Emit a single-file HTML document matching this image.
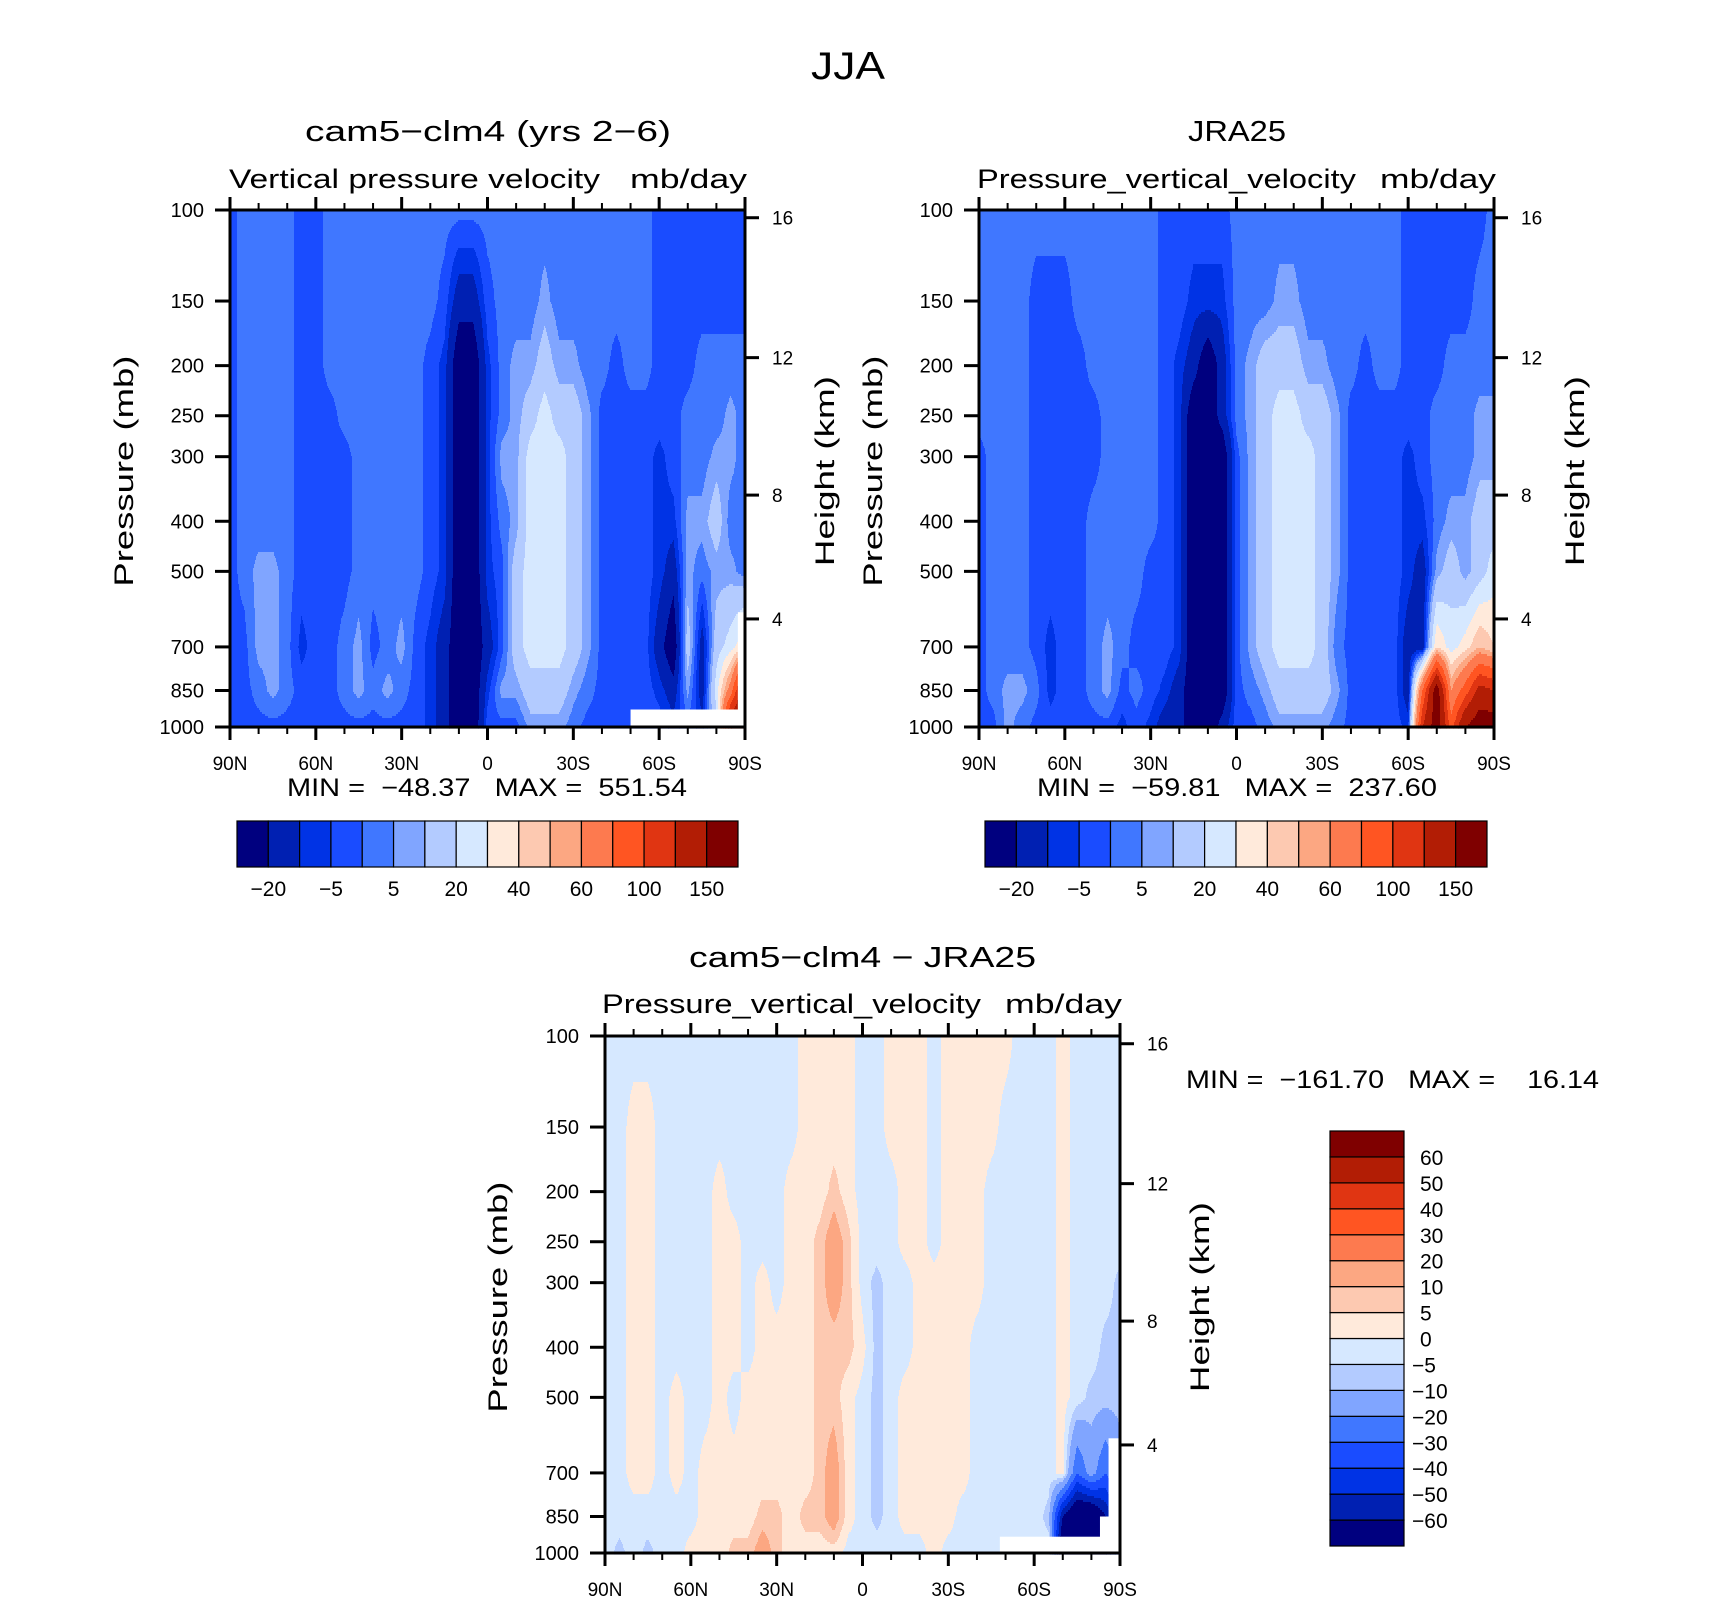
<!DOCTYPE html>
<html><head><meta charset="utf-8"><style>
html,body{margin:0;padding:0;background:#fff;}
svg text{font-family:"Liberation Sans",sans-serif;fill:#000;white-space:pre;}
</style></head>
<body>
<svg id="fig" xmlns="http://www.w3.org/2000/svg" width="1710" height="1601" viewBox="0 0 1710 1601">
<rect x="0" y="0" width="1710" height="1601" fill="#fff"/>
<text x="848" y="79" font-size="39" text-anchor="middle" textLength="74" lengthAdjust="spacingAndGlyphs">JJA</text>
<text x="305" y="141" font-size="29" textLength="366" lengthAdjust="spacingAndGlyphs">cam5−clm4 (yrs 2−6)</text>
<text x="229" y="188" font-size="27" textLength="371" lengthAdjust="spacingAndGlyphs">Vertical pressure velocity</text>
<text x="630" y="188" font-size="27" textLength="117" lengthAdjust="spacingAndGlyphs">mb/day</text>
<text x="1188" y="141" font-size="29" textLength="98" lengthAdjust="spacingAndGlyphs">JRA25</text>
<text x="977" y="188" font-size="27" textLength="379" lengthAdjust="spacingAndGlyphs">Pressure_vertical_velocity</text>
<text x="1380" y="188" font-size="27" textLength="116" lengthAdjust="spacingAndGlyphs">mb/day</text>
<text x="689" y="967" font-size="29" textLength="347" lengthAdjust="spacingAndGlyphs">cam5−clm4 − JRA25</text>
<text x="602" y="1013" font-size="27" textLength="379" lengthAdjust="spacingAndGlyphs">Pressure_vertical_velocity</text>
<text x="1005" y="1013" font-size="27" textLength="117" lengthAdjust="spacingAndGlyphs">mb/day</text>
<text x="287" y="796" font-size="25" textLength="400" lengthAdjust="spacingAndGlyphs">MIN =  −48.37   MAX =  551.54</text>
<text x="1037" y="796" font-size="25" textLength="400" lengthAdjust="spacingAndGlyphs">MIN =  −59.81   MAX =  237.60</text>
<text x="1186" y="1088" font-size="25" textLength="413" lengthAdjust="spacingAndGlyphs">MIN =  −161.70   MAX =    16.14</text>
</svg>
<script>
// ---- data ----
const levels = [100,150,200,250,300,400,500,700,850,1000];
const lats = [90,85,80,75,70,65,60,55,50,45,40,35,30,25,20,15,10,5,0,-5,-10,-15,-20,-25,-30,-35,-40,-45,-50,-55,-60,-65,-70,-75,-80,-85,-90];
const xTickLats = [90,60,30,0,-30,-60,-90];
const xTickLabels = ['90N','60N','30N','0','30S','60S','90S'];
const kmTicks = [16,12,8,4];
const kmTickPressures = [103.5,193,356,618];
const boundsOmega = [-20,-10,-5,0,5,10,20,30,40,50,60,80,100,120,150];
const boundsDiff = [-60,-50,-40,-30,-20,-10,-5,0,5,10,20,30,40,50,60];
const colors = ['#00007f','#0020b2','#0033e5','#1a4cff','#4077ff','#80a5ff','#b3cbff','#d6e8ff','#ffeadb','#fdc9b1','#fca782','#fd7a4f','#ff5522','#e03512','#b21d05','#7f0000'];
// columns: one per latitude (90N..90S), values at each pressure level (100..1000 mb)
const camOmega = [
[-2,-2,-2,-2,-2,-2,-2,-2,-2,-2],[2,2,2,2,2,2,2,-2,-2,-2],[2,2,2,2,2,2,7,7,2,-2],[2,2,2,2,2,2,7,7,7,-2],
[2,2,2,2,2,2,2,2,2,-2],[-2,-2,-2,-2,-2,-2,-2,-7,-2,-2],[-2,-2,-2,-2,-2,-2,-2,-2,-2,-2],[2,2,2,-2,-2,-2,-2,-2,-2,-2],
[2,2,2,2,-2,-2,-2,2,2,-2],[2,2,2,2,2,2,2,7,7,-2],[2,2,2,2,2,2,2,-2,2,-2],[2,2,2,2,2,2,2,2,7,-2],
[2,2,2,2,2,2,2,7,2,-2],[2,2,2,2,2,2,2,-2,-2,-2],[2,2,-2,-2,-2,-2,-2,-7,-7,-7],[2,-2,-7,-7,-7,-7,-7,-15,-15,-15],
[2,-15,-30,-30,-30,-30,-30,-30,-30,-30],[2,-15,-30,-30,-30,-30,-30,-30,-30,-30],[2,-2,-7,-7,-7,-7,-7,-15,-7,-2],
[2,2,2,2,7,2,-2,-2,7,-2],[2,2,7,7,7,7,15,15,7,-2],[2,2,7,15,25,25,25,25,15,7],[2,7,15,25,25,25,25,25,15,7],
[2,2,7,15,25,25,25,25,15,7],[2,2,7,15,15,15,15,15,7,2],[2,2,2,7,7,7,7,7,2,-2],[2,2,2,-2,-2,-2,-2,-2,-2,-2],
[2,2,-2,-2,-2,-2,-2,-2,-2,-2],[2,2,2,-2,-2,-2,-2,-2,-2,-2],[2,2,2,-2,-2,-2,-2,-2,-2,-2],
[-2,-2,-2,-2,-7,-7,-7,-15,-7,-2],[-2,-2,-2,-2,-2,-7,-15,-30,-15,-7],[-2,-2,-2,2,2,7,7,15,7,-2],
[-2,-2,2,2,2,7,2,-15,-15,-7],[-2,-2,2,2,7,15,7,15,25,15],[-2,-2,2,7,7,2,7,25,70,150],[-2,-2,2,2,2,2,2,40,150,150]
];
const jraOmega = [
[2,2,2,2,-2,-2,-2,-2,-2,-2],[2,2,2,2,2,2,2,2,2,-2],[2,2,2,2,2,2,2,2,7,7],[2,2,2,2,2,2,2,2,7,2],
[2,-2,-2,-2,-2,-2,-2,-2,2,-2],[2,-2,-2,-2,-2,-2,-2,-7,-7,-2],[2,-2,-2,-2,-2,-2,-2,-2,-2,-2],[2,2,-2,-2,-2,-2,-2,-2,-2,-2],
[2,2,2,-2,-2,2,2,2,2,-2],[2,2,2,2,2,2,2,7,7,-2],[2,2,2,2,2,2,2,2,-2,-7],[2,2,2,2,2,2,2,-2,2,-2],
[2,2,2,2,2,2,-2,-2,-2,-7],[-2,-2,-2,-2,-2,-2,-2,-2,-7,-15],[-2,-2,-7,-7,-7,-7,-7,-7,-15,-15],
[-2,-7,-15,-30,-30,-30,-30,-30,-30,-30],[-2,-7,-30,-30,-30,-30,-30,-30,-30,-30],[-2,-7,-15,-15,-30,-30,-30,-30,-30,-15],
[2,2,2,2,-2,-2,-2,-2,-2,-2],[2,2,7,7,7,7,7,7,2,-2],[2,2,15,15,15,15,15,15,7,2],[2,7,15,25,25,25,25,25,15,7],
[2,7,15,25,25,25,25,25,15,7],[2,2,7,15,25,25,25,25,15,7],[2,2,7,15,15,15,15,15,15,7],[2,2,2,7,7,7,7,2,7,2],
[2,2,2,-2,-2,-2,-2,-2,-2,-2],[2,2,-2,-2,-2,-2,-2,-2,-2,-2],[2,2,2,-2,-2,-2,-2,-2,-2,-2],[2,2,2,-2,-2,-2,-2,-2,-2,-2],
[-2,-2,-2,-2,-7,-7,-7,-15,-15,-7],[-2,-2,-2,-2,-2,-7,-15,-15,80,120],[-2,-2,-2,2,2,2,7,40,170,170],
[-2,-2,2,2,2,7,15,25,60,90],[-2,-2,2,2,2,7,7,35,90,150],[-2,2,2,7,7,15,15,50,130,170],[2,2,2,7,7,15,25,40,120,170]
];
const diffOmega = [
[-2,-2,-2,-2,-2,-2,-2,-2,-2,-2],[-2,-2,-2,-2,-2,-2,-2,-2,-2,-7],[-2,2,2,2,2,2,2,2,-2,-2],[-2,2,2,2,2,2,2,2,-2,-7],
[-2,-2,-2,-2,-2,-2,-2,-2,-2,-2],[-2,-2,-2,-2,-2,-2,2,2,-2,-2],[-2,-2,-2,-2,-2,-2,-2,-2,-2,2],[-2,-2,-2,-2,-2,-2,-2,2,2,2],
[-2,-2,2,2,2,2,2,2,2,2],[-2,-2,-2,2,2,2,-2,2,2,7],[-2,-2,-2,-2,-2,-2,2,2,2,7],[-2,-2,-2,-2,2,2,2,2,7,15],
[-2,-2,-2,-2,-2,2,2,2,7,7],[-2,-2,2,2,2,2,2,2,2,2],[2,2,2,2,2,2,2,2,7,2],[2,2,2,7,7,7,7,7,7,2],
[2,2,7,15,15,7,7,15,15,2],[2,2,2,7,7,7,2,2,2,-2],[-2,-2,-2,-2,-2,2,-2,-2,-2,-2],[-2,-2,-2,-2,-7,-7,-7,-7,-7,-2],
[2,2,-2,-2,-2,-2,-2,-2,-2,-2],[2,2,2,2,-2,-2,2,2,2,-2],[2,2,2,2,2,2,2,2,2,-2],[-2,-2,-2,-2,2,2,2,2,2,2],
[2,2,2,2,2,2,2,2,2,-2],[2,2,2,2,2,2,2,2,-2,-2],[2,2,2,2,2,-2,-2,-2,-2,-2],[2,2,-2,-2,-2,-2,-2,-2,-2,-2],
[2,-2,-2,-2,-2,-2,-2,-2,-2,-2],[-2,-2,-2,-2,-2,-2,-2,-2,-2,-2],[-2,-2,-2,-2,-2,-2,-2,-2,-2,-2],
[-2,-2,-2,-2,-2,-2,-2,-2,-7,-2],[2,2,2,2,2,2,2,2,-60,-80],[-2,-2,-2,-2,-2,-2,-2,-30,-80,-80],
[-2,-2,-2,-2,-2,-2,-7,-15,-80,-80],[-2,-2,-2,-2,-2,-7,-7,-30,-60,-60],[-2,-2,-2,-2,-7,-7,-7,-15,-30,-30]
];
const pressureTicks = [100,150,200,250,300,400,500,700,850,1000];

// ---- drawing ----
const NS = 'http://www.w3.org/2000/svg';
const svg = document.getElementById('fig');
function mk(tag, attrs, parent){ const e=document.createElementNS(NS,tag); for(const k in attrs) e.setAttribute(k,attrs[k]); (parent||svg).appendChild(e); return e; }

function makePanel(P){
  const g = mk('g',{});
  
  
  const xOf = lat => P.x0 + (90 - lat) / 180 * P.w;
  const lp0 = Math.log10(100), lp1 = Math.log10(1000);
  const yOf = p => P.y0 + (Math.log10(p) - lp0) / (lp1 - lp0) * P.h;
  const logLev = levels.map(p => Math.log10(p));
  function valAt(lat, p){
    let fi = (lats[0] - lat) / (lats[0] - lats[1]);
    fi = Math.max(0, Math.min(lats.length - 1.0001, fi));
    const i = Math.floor(fi), tx = fi - i;
    const lp = Math.log10(p);
    let k = 0; while (k < levels.length - 2 && lp > logLev[k+1]) k++;
    let ty = (lp - logLev[k]) / (logLev[k+1] - logLev[k]); ty = Math.max(0, Math.min(1, ty));
    const d = P.data;
    const a = d[i][k]*(1-ty) + d[i][k+1]*ty;
    const b = d[i+1][k]*(1-ty) + d[i+1][k+1]*ty;
    return a*(1-tx) + b*tx;
  }
  function bin(v){ let b = 0; while (b < P.bounds.length && v >= P.bounds[b]) b++; return b; }
  const field = mk('g',{},g);
  
  
  const step = 2;
  for (let y = P.y0; y < P.y0 + P.h; y += step){
    const p = Math.pow(10, lp0 + ((y + step/2 - P.y0) / P.h) * (lp1 - lp0));
    let runStart = P.x0, runBin = -1;
    for (let x = P.x0; x <= P.x0 + P.w; x++){
      let b = -2;
      if (x < P.x0 + P.w){
        const lat = 90 - (x + 0.5 - P.x0) / P.w * 180;
        b = bin(valAt(lat, p));
      }
      if (b !== runBin){
        if (runBin >= 0){
          const r = mk('rect',{x:runStart, y:y, width:x-runStart+0.6, height:step+0.6, fill:colors[runBin]}, field);
          
          
        }
        runStart = x; runBin = b;
      }
    }
  }
  // missing-data masks
  (P.missing||[]).forEach(m => {
    const r = mk('rect',{x:xOf(m.lat), y:yOf(m.p), width:P.x0+P.w-xOf(m.lat), height:P.y0+P.h-yOf(m.p), fill:'#fff'}, g);
    
    
  });
  // frame
  const fr = mk('rect',{x:P.x0, y:P.y0, width:P.w, height:P.h, fill:'none', stroke:'#000', 'stroke-width':3}, g);
  
  
  // x ticks
  for (let lat = 90; lat >= -90; lat -= 10){
    const major = lat % 30 === 0, L = major ? 13 : 7, x = xOf(lat);
    const t1 = mk('line',{x1:x, y1:P.y0+P.h, x2:x, y2:P.y0+P.h+L, stroke:'#000','stroke-width':major?3:2}, g);
    
    
    const t2 = mk('line',{x1:x, y1:P.y0, x2:x, y2:P.y0-L, stroke:'#000','stroke-width':major?3:2}, g);
    
    
  }
  xTickLats.forEach((lat, j) => {
    const t = mk('text',{x:xOf(lat), y:P.y0+P.h+43, 'font-size':19, 'text-anchor':'middle'}, g);
    t.textContent = xTickLabels[j];
    
    
  });
  // y ticks
  pressureTicks.forEach(p => {
    const y = yOf(p);
    const l = mk('line',{x1:P.x0-15, y1:y, x2:P.x0, y2:y, stroke:'#000','stroke-width':3}, g);
    
    
    const t = mk('text',{x:P.x0-26, y:y+7, 'font-size':20, 'text-anchor':'end'}, g);
    t.textContent = String(p);
    
    
  });
  kmTicks.forEach((km, j) => {
    const y = yOf(kmTickPressures[j]);
    const l = mk('line',{x1:P.x0+P.w, y1:y, x2:P.x0+P.w+14, y2:y, stroke:'#000','stroke-width':3}, g);
    
    
    const t = mk('text',{x:P.x0+P.w+27, y:y+7, 'font-size':19}, g);
    t.textContent = String(km);
    
    
  });
  const cy = P.y0 + P.h * 0.505;
  const yt = mk('text',{x:0, y:0, 'font-size':27, 'text-anchor':'middle', transform:`translate(${P.yTitleX},${cy}) rotate(-90)`, textLength:231, lengthAdjust:'spacingAndGlyphs'}, g);
  yt.textContent = 'Pressure (mb)';
  
  
  const ht = mk('text',{x:0, y:0, 'font-size':27, 'text-anchor':'middle', transform:`translate(${P.hTitleX},${cy}) rotate(-90)`, textLength:190, lengthAdjust:'spacingAndGlyphs'}, g);
  ht.textContent = 'Height (km)';
  
  
}

function hColorbar(name, x0, x1, y0, y1, bounds){
  const g = mk('g',{});
  
  
  const bw = (x1 - x0) / colors.length;
  colors.forEach((c, i) => {
    const r = mk('rect',{x:x0+i*bw, y:y0, width:bw, height:y1-y0, fill:c, stroke:'#000','stroke-width':1.2}, g);
    
    
  });
  bounds.forEach((b, i) => {
    if (i % 2 !== 0) return;
    const t = mk('text',{x:x0+(i+1)*bw, y:y1+29, 'font-size':21, 'text-anchor':'middle'}, g);
    t.textContent = String(b).replace('-', '−');
    
    
  });
}
function vColorbar(name, x0, x1, y0, y1, bounds){
  const g = mk('g',{});
  
  
  const n = colors.length, bh = (y1 - y0) / n;
  colors.forEach((c, i) => {
    const r = mk('rect',{x:x0, y:y1-(i+1)*bh, width:x1-x0, height:bh, fill:c, stroke:'#000','stroke-width':1.2}, g);
    
    
  });
  bounds.forEach((b, i) => {
    const y = y1 - (i+1)*bh;
    const t = mk('text',{x: b < 0 ? 1412 : 1420, y:y+8, 'font-size':21}, g);
    t.textContent = String(b).replace('-', '−');
    
    
  });
}

makePanel({name:'panel-cam5', x0:230, y0:210, w:515, h:517, data:camOmega, bounds:boundsOmega,
  missing:[{lat:-50,p:925},{lat:-87.5,p:600}], yTitleX:133, hTitleX:834});
makePanel({name:'panel-jra25', x0:979, y0:210, w:515, h:517, data:jraOmega, bounds:boundsOmega,
  missing:[], yTitleX:882, hTitleX:1584});
makePanel({name:'panel-difference', x0:605, y0:1036, w:515, h:517, data:diffOmega, bounds:boundsDiff,
  missing:[{lat:-48,p:930},{lat:-86,p:600},{lat:-83,p:850}], yTitleX:507, hTitleX:1209});
hColorbar('colorbar-cam5', 237, 738, 821, 867, boundsOmega);
hColorbar('colorbar-jra25', 985, 1487, 821, 867, boundsOmega);
vColorbar('colorbar-difference', 1330, 1404, 1131, 1546, boundsDiff);
</script>
</body></html>
